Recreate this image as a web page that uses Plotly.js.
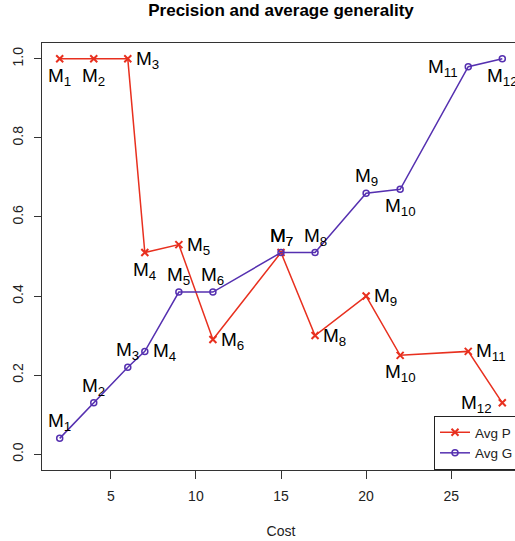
<!DOCTYPE html>
<html>
<head>
<meta charset="utf-8">
<script src="https://cdn.plot.ly/plotly-3.0.1.min.js"></script>
<style>
html,body{margin:0;padding:0;overflow:hidden;background:#fff;}
#chart{width:540px;height:541px;}
</style>
</head>
<body>
<div id="chart"></div>
<script>
// ---- data ----
const cost = [2, 4, 6, 7, 9, 11, 15, 17, 20, 22, 26, 28];
const avgP = [1.00, 1.00, 1.00, 0.51, 0.53, 0.29, 0.51, 0.30, 0.40, 0.25, 0.26, 0.13];
const avgG = [0.04, 0.13, 0.22, 0.26, 0.41, 0.41, 0.51, 0.51, 0.66, 0.67, 0.98, 1.00];
const modelIds = ['1','2','3','4','5','6','7','8','9','10','11','12'];
const seriesNames = ['Avg P', 'Avg G'];
const xTicks = [5, 10, 15, 20, 25];
const yTicks = [0, 0.2, 0.4, 0.6, 0.8, 1.0];

// ---- label placement styles (b=below, t=above, r=right, l=left) ----
const posP = ['b','b','r','b','r','r','t','r','r','b','r','l'];
const posG = ['t','t','t','r','t','t','t','t','t','b','l','b'];

const RED = '#e8301f';
const PURPLE = '#5530b0';
const FONT = 'Liberation Sans, Arial, sans-serif';

function labelAnn(x, y, id, pos) {
  const a = {x: x, y: y, xref: 'x', yref: 'y', text: 'M<sub>' + id + '</sub>',
    showarrow: false, font: {family: FONT, size: 19, color: '#000'}, borderpad: 0};
  if (pos === 'b') { a.xanchor = 'center'; a.yanchor = 'top'; a.yshift = -5; }
  else if (pos === 't') { a.xanchor = 'center'; a.yanchor = 'bottom'; a.yshift = 3; }
  else if (pos === 'r') { a.xanchor = 'left'; a.yanchor = 'middle'; a.xshift = 7; a.yshift = -1; }
  else { a.xanchor = 'right'; a.yanchor = 'middle'; a.xshift = -9; a.yshift = -1; }
  return a;
}

const anns = [];
cost.forEach((c, i) => anns.push(labelAnn(c, avgP[i], modelIds[i], posP[i])));
cost.forEach((c, i) => anns.push(labelAnn(c, avgG[i], modelIds[i], posG[i])));

const traces = [
  {x: cost, y: avgP, name: seriesNames[0], type: 'scatter', mode: 'lines+markers',
   line: {color: RED, width: 1.5},
   marker: {symbol: 'x-thin-open', size: 7, color: RED, line: {color: RED, width: 2}}},
  {x: cost, y: avgG, name: seriesNames[1], type: 'scatter', mode: 'lines+markers',
   line: {color: PURPLE, width: 1.5},
   marker: {symbol: 'circle-open', size: 6, color: PURPLE, line: {color: PURPLE, width: 1.5}}}
];

const layout = {
  width: 540, height: 541,
  margin: {l: 42, r: 20, t: 43, b: 71},
  paper_bgcolor: '#fff', plot_bgcolor: '#fff',
  font: {family: FONT, size: 14, color: '#222'},
  title: {text: '<b>Precision and average generality</b>', font: {family: FONT, size: 17, color: '#000'},
    x: 0.5, xref: 'paper', xanchor: 'center', y: 1 - 10/541, yref: 'container', yanchor: 'middle'},
  xaxis: {range: [0.96, 29.04], tickvals: xTicks, ticks: 'outside', ticklen: 8, tickwidth: 1,
    tickcolor: '#333', showline: true, mirror: true, linecolor: '#333', linewidth: 1,
    showgrid: false, zeroline: false, tickfont: {size: 14, color: '#222'}, ticklabelstandoff: 5,
    title: {text: 'Cost', font: {size: 14, color: '#222'}, standoff: 23}},
  yaxis: {range: [-0.04, 1.04], tickvals: yTicks, tickformat: '.1f', ticks: 'outside', ticklen: 7,
    tickwidth: 1, tickcolor: '#333', tickangle: -90, showline: true, mirror: true, linecolor: '#333',
    linewidth: 1, showgrid: false, zeroline: false, tickfont: {size: 14, color: '#222'},
    ticklabelstandoff: 5},
  showlegend: true,
  legend: {x: (434-42)/(520-42), xanchor: 'left', y: 0, yanchor: 'bottom', bgcolor: '#fff',
    bordercolor: '#222', borderwidth: 1, font: {size: 13.5, color: '#222'}, tracegroupgap: 0},
  annotations: anns
};

Plotly.newPlot('chart', traces, layout, {displayModeBar: false, staticPlot: true});
</script>
</body>
</html>
